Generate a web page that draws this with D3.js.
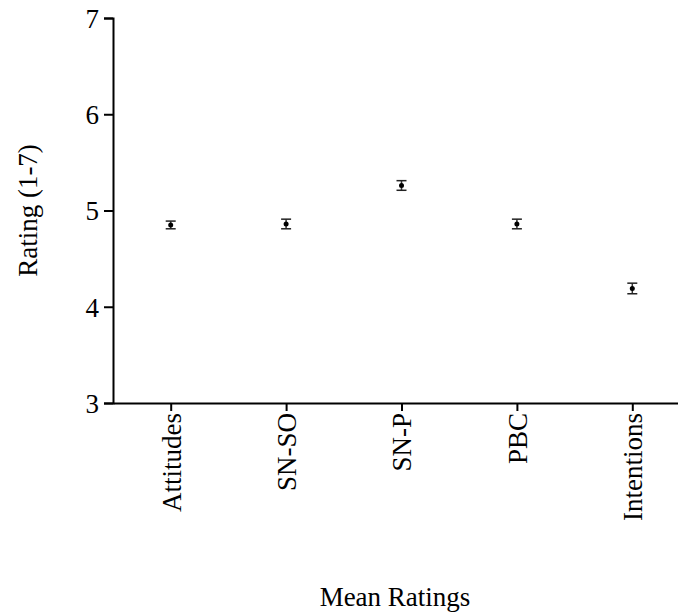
<!DOCTYPE html>
<html>
<head>
<meta charset="utf-8">
<script src="https://cdn.jsdelivr.net/npm/d3@7"></script>
<style>
  body { margin: 0; background: #fff; }
  svg text { font-family: "Liberation Serif", "Times New Roman", serif; fill: #000; }
</style>
</head>
<body>
<svg width="678" height="613"></svg>
<script>
const categories = ["Attitudes", "SN-SO", "SN-P", "PBC", "Intentions"];
const means = [4.85, 4.86, 5.26, 4.86, 4.19];
const errors = [0.04, 0.05, 0.05, 0.05, 0.055];
const yTicks = [3, 4, 5, 6, 7];

const svg = d3.select("svg");
const plotLeft = 113, plotTop = 18, plotBottom = 403, plotRight = 690;

const x = d3.scalePoint().domain(categories).range([plotLeft, plotRight]).padding(0.5);
const y = d3.scaleLinear().domain([3, 7]).range([plotBottom, plotTop]);

const yAxis = svg.append("g")
    .attr("transform", `translate(${plotLeft},0)`)
    .call(d3.axisLeft(y).tickValues(yTicks).tickSize(9).tickPadding(5).tickFormat(d3.format("d")));
yAxis.selectAll("text").style("font-size", "27px").attr("dy", "0.35em");

const xAxis = svg.append("g")
    .attr("transform", `translate(0,${plotBottom})`)
    .call(d3.axisBottom(x).tickSize(8).tickSizeOuter(0));
xAxis.selectAll("text")
    .style("font-size", "27px")
    .attr("text-anchor", "end")
    .attr("transform", "rotate(-90)")
    .attr("x", -10)
    .attr("y", 0)
    .attr("dy", "0.35em");

svg.selectAll(".domain, .tick line").attr("stroke", "#000").attr("stroke-width", 2);

const data = categories.map((c, i) => ({ c, m: means[i], e: errors[i] }));
const g = svg.append("g");
const capW = 5;

g.selectAll(".stem").data(data).join("line")
    .attr("x1", d => x(d.c)).attr("x2", d => x(d.c))
    .attr("y1", d => y(d.m + d.e)).attr("y2", d => y(d.m - d.e))
    .attr("stroke", "#333").attr("stroke-width", 1.5);
g.selectAll(".capTop").data(data).join("line")
    .attr("x1", d => x(d.c) - capW).attr("x2", d => x(d.c) + capW)
    .attr("y1", d => y(d.m + d.e)).attr("y2", d => y(d.m + d.e))
    .attr("stroke", "#222").attr("stroke-width", 1.5);
g.selectAll(".capBottom").data(data).join("line")
    .attr("x1", d => x(d.c) - capW).attr("x2", d => x(d.c) + capW)
    .attr("y1", d => y(d.m - d.e)).attr("y2", d => y(d.m - d.e))
    .attr("stroke", "#222").attr("stroke-width", 1.5);
g.selectAll("circle").data(data).join("circle")
    .attr("cx", d => x(d.c)).attr("cy", d => y(d.m))
    .attr("r", 2.5).attr("fill", "#000");

svg.append("text")
    .attr("transform", `translate(37,${(plotTop + plotBottom) / 2}) rotate(-90)`)
    .attr("text-anchor", "middle")
    .style("font-size", "27px")
    .text("Rating (1-7)");

svg.append("text")
    .attr("x", 395).attr("y", 606)
    .attr("text-anchor", "middle")
    .style("font-size", "27px")
    .text("Mean Ratings");
</script>
</body>
</html>
